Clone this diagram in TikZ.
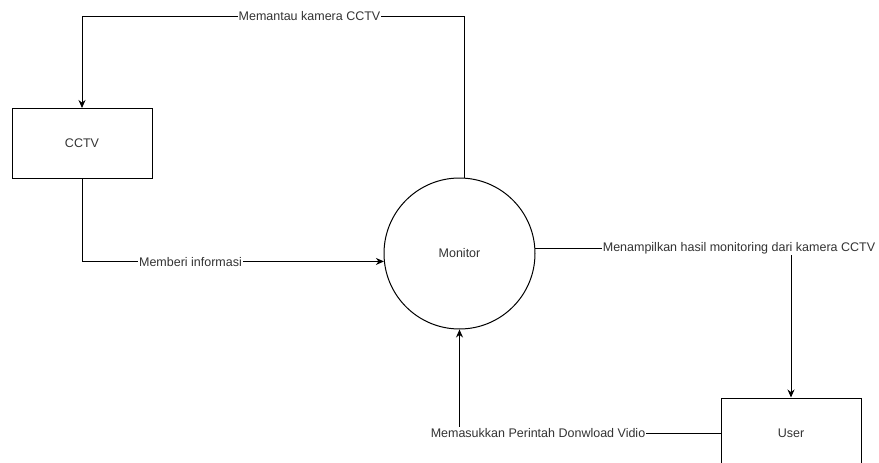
\documentclass[tikz,border=0pt]{standalone}
\usepackage{fontspec}
\setmainfont{Liberation Sans}
\usetikzlibrary{arrows.meta,calc}
\definecolor{txt}{HTML}{333333}
\tikzset{
  box/.style={draw=black,line width=1pt,minimum width=140pt,minimum height=70pt,inner sep=0pt,font=\fontsize{12.5}{14}\selectfont,text=txt},
  proc/.style={draw=black,line width=1pt,circle,minimum size=151pt,inner sep=0pt,font=\fontsize{12.5}{14}\selectfont,text=txt},
  flow/.style={line width=1pt,draw=black},
  arr/.style={flow,-{Stealth[length=8pt,width=7pt]}},
  lbl/.style={fill=white,inner sep=1pt,font=\fontsize{12.5}{14}\selectfont,text=txt}
}
\begin{document}
\begin{tikzpicture}[x=1pt,y=1pt]
\useasboundingbox (0,0) rectangle (879,-463);
\node[box] (cctv) at (82,-143.5) {CCTV};
\node[proc] (mon) at (459.5,-253.5) {Monitor};
\node[box] (user) at (791,-433) {User};
\coordinate (tl) at (82,-16);
\draw[arr] (mon.86) |- (tl) -- (cctv.north);
\draw[arr] (cctv.south) |- (mon.186);
\draw[arr] (mon.4) -| (user.north);
\draw[arr] (user.west) -| (mon.south);
\node[lbl] (l1) at (309.5,-16) {Memantau kamera CCTV};
\node[lbl] (l2) at (190.5,-262) {Memberi informasi};
\node[lbl] (l3) at (739,-248) {Menampilkan hasil monitoring dari kamera CCTV};
\node[lbl] (l4) at (538,-433) {Memasukkan Perintah Donwload Vidio};
\end{tikzpicture}
\end{document}
